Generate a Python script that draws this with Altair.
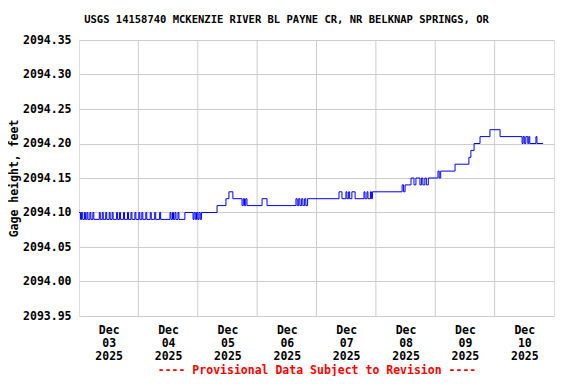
import altair as alt
import pandas as pd

# Hours since 2025-12-03 00:00 (local) and gage height (ft), step-after
hours = [0, 0.6, 1.0, 1.5, 2.2, 2.6, 3.2, 3.6, 4.4, 4.8,
         5.6, 6.0, 8.2, 8.6, 9.4, 9.8, 10.8, 11.2, 12.2, 12.6,
         13.4, 13.8, 15.2, 15.6, 16.4, 16.8, 18.0, 18.4, 19.6, 20.0,
         21.0, 21.4, 22.6, 23.0, 24.2, 24.6, 25.4, 25.8, 27.0, 27.4,
         28.8, 29.2, 30.6, 31.0, 32.6, 33.0, 36.8, 37.2, 37.8, 38.2,
         38.8, 39.2, 40.0, 40.4, 42.8, 46.1, 46.5, 47.0, 47.5, 48.0,
         48.5, 49.0, 49.5, 55.8, 59.4, 60.6, 62.2, 65.9, 66.4, 66.9,
         67.4, 67.9, 74.0, 76.0, 87.7, 88.2, 88.8, 89.3, 90.0, 90.5,
         91.2, 91.7, 92.4, 105.1, 106.3, 107.9, 108.3, 109.0, 109.4, 110.3,
         111.6, 115.2, 115.6, 116.4, 116.8, 117.8, 118.2, 118.6, 130.6, 131.2,
         131.8, 134.2, 135.4, 136.2, 137.8, 138.4, 139.0, 139.8, 140.4, 141.2,
         145.1, 145.6, 146.2, 152.0, 157.6, 158.4, 159.7, 162.1, 166.1, 170.2,
         179.1, 179.5, 180.0, 180.6, 181.4, 181.8, 182.2, 184.7, 185.1, 187.6]

gage = [2094.10, 2094.09, 2094.10, 2094.09, 2094.10, 2094.09, 2094.10, 2094.09, 2094.10, 2094.09,
        2094.10, 2094.09, 2094.10, 2094.09, 2094.10, 2094.09, 2094.10, 2094.09, 2094.10, 2094.09,
        2094.10, 2094.09, 2094.10, 2094.09, 2094.10, 2094.09, 2094.10, 2094.09, 2094.10, 2094.09,
        2094.10, 2094.09, 2094.10, 2094.09, 2094.10, 2094.09, 2094.10, 2094.09, 2094.10, 2094.09,
        2094.10, 2094.09, 2094.10, 2094.09, 2094.10, 2094.09, 2094.10, 2094.09, 2094.10, 2094.09,
        2094.10, 2094.09, 2094.10, 2094.09, 2094.10, 2094.09, 2094.10, 2094.09, 2094.10, 2094.09,
        2094.10, 2094.09, 2094.10, 2094.11, 2094.12, 2094.13, 2094.12, 2094.11, 2094.12, 2094.11,
        2094.12, 2094.11, 2094.12, 2094.11, 2094.12, 2094.11, 2094.12, 2094.11, 2094.12, 2094.11,
        2094.12, 2094.11, 2094.12, 2094.13, 2094.12, 2094.13, 2094.12, 2094.13, 2094.12, 2094.13,
        2094.12, 2094.13, 2094.12, 2094.13, 2094.12, 2094.13, 2094.12, 2094.13, 2094.14, 2094.13,
        2094.14, 2094.15, 2094.14, 2094.15, 2094.14, 2094.15, 2094.14, 2094.15, 2094.14, 2094.15,
        2094.16, 2094.15, 2094.16, 2094.17, 2094.18, 2094.19, 2094.20, 2094.21, 2094.22, 2094.21,
        2094.20, 2094.21, 2094.20, 2094.21, 2094.20, 2094.21, 2094.20, 2094.21, 2094.20, 2094.20]

day_labels = ["2025-12-03T12:00:00", "2025-12-04T12:00:00", "2025-12-05T12:00:00",
              "2025-12-06T12:00:00", "2025-12-07T12:00:00", "2025-12-08T12:00:00",
              "2025-12-09T12:00:00", "2025-12-10T12:00:00"]
day_bounds = ["2025-12-04T00:00:00", "2025-12-05T00:00:00", "2025-12-06T00:00:00",
              "2025-12-07T00:00:00", "2025-12-08T00:00:00", "2025-12-09T00:00:00",
              "2025-12-10T00:00:00"]
y_ticks = [2093.95, 2094.00, 2094.05, 2094.10, 2094.15, 2094.20, 2094.25, 2094.30, 2094.35]

base = pd.Timestamp("2025-12-03T00:00:00")
times = [(base + pd.Timedelta(hours=h)).strftime("%Y-%m-%dT%H:%M:%S") for h in hours]
df = pd.DataFrame({"time": times, "gage": gage})
grid_df = pd.DataFrame({"t": day_bounds})

FONT = "DejaVu Sans Mono"

x_scale = alt.Scale(domain=["2025-12-03T00:00:00", "2025-12-11T00:00:00"], nice=False)

grid = alt.Chart(grid_df).mark_rule(color="#cccccc", strokeWidth=1).encode(
    x=alt.X("t:T", scale=x_scale)
)

line = alt.Chart(df).mark_line(color="#0000ff", strokeWidth=1, interpolate="step-after").encode(
    x=alt.X("time:T", scale=x_scale,
            axis=alt.Axis(values=day_labels, grid=False, ticks=False, domain=False,
                          labelExpr="[timeFormat(datum.value, '%b'), timeFormat(datum.value, '%d'), timeFormat(datum.value, '%Y')]",
                          labelFont=FONT, labelFontSize=11.5, labelFontWeight="bold",
                          labelColor="black", labelLineHeight=13, labelPadding=8,
                          labelBaseline="top",
                          title="---- Provisional Data Subject to Revision ----",
                          titleColor="#ff0000", titleFont=FONT, titleFontSize=11.5,
                          titleFontWeight="bold", titlePadding=3)),
    y=alt.Y("gage:Q", scale=alt.Scale(domain=[2093.95, 2094.35], nice=False, zero=False),
            axis=alt.Axis(values=y_ticks, format=".2f", grid=True, gridColor="#cccccc",
                          ticks=False, domain=False,
                          labelFont=FONT, labelFontSize=11.5, labelFontWeight="bold",
                          labelColor="black", labelPadding=8,
                          title="Gage height, feet", titleFont=FONT, titleFontSize=11.5,
                          titleFontWeight="bold", titleColor="black", titlePadding=3))
)

chart = alt.layer(grid, line).properties(
    width=475, height=276,
    title=alt.TitleParams("USGS 14158740 MCKENZIE RIVER BL PAYNE CR, NR BELKNAP SPRINGS, OR",
                          font=FONT, fontSize=10.5, fontWeight="bold", color="black",
                          anchor="middle", dx=-30, offset=9),
    autosize=alt.AutoSizeParams(type="none"),
    padding={"left": 71, "top": 32, "right": 14, "bottom": 60},
).configure_view(stroke="black", strokeWidth=1).configure(background="white")

chart.save("out.html", embed_options={"renderer": "svg", "actions": False})
